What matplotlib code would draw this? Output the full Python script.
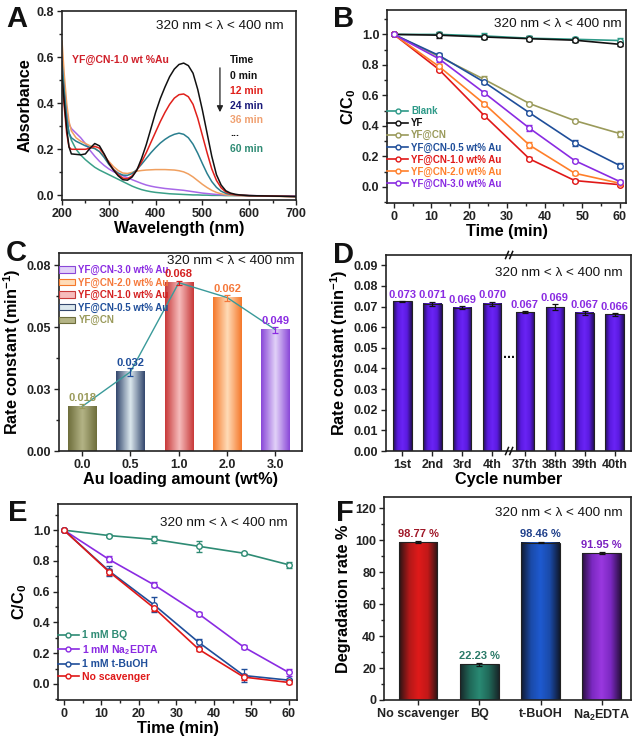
import numpy as np
import matplotlib
matplotlib.use('Agg')
import matplotlib.pyplot as plt
from matplotlib.colors import LinearSegmentedColormap
from matplotlib.patches import Rectangle, Patch
from matplotlib.lines import Line2D
from matplotlib.ticker import AutoMinorLocator, MultipleLocator, FixedLocator, FixedFormatter

plt.rcParams['font.family'] = ['Liberation Sans', 'DejaVu Sans']
plt.rcParams['font.weight'] = 'bold'
plt.rcParams['axes.labelweight'] = 'bold'
plt.rcParams['mathtext.fontset'] = 'custom'
plt.rcParams['mathtext.rm'] = 'Liberation Sans:bold'
plt.rcParams['mathtext.bf'] = 'Liberation Sans:bold'
plt.rcParams['mathtext.default'] = 'bf'

# ---------------- data ----------------
# A: UV-vis spectra
wl = [200, 205, 210, 215, 220, 230, 240, 250, 260, 270, 280, 290, 300, 310, 320, 330, 340, 350, 360, 370,
      380, 390, 400, 410, 420, 430, 440, 450, 460, 470, 480, 490, 500, 510, 520, 530, 540, 550, 560, 570,
      580, 600, 650, 700]
abs_0 = [0.52, 0.40, 0.29, 0.21, 0.18, 0.178, 0.176, 0.18, 0.205, 0.225, 0.215, 0.18, 0.14, 0.11, 0.085,
         0.068, 0.066, 0.08, 0.11, 0.16, 0.22, 0.29, 0.36, 0.42, 0.47, 0.515, 0.548, 0.568, 0.574, 0.563,
         0.53, 0.46, 0.37, 0.27, 0.17, 0.09, 0.045, 0.02, 0.01, 0.005, 0.002, -0.001, -0.003, -0.005]
abs_12 = [0.50, 0.38, 0.27, 0.21, 0.20, 0.20, 0.20, 0.20, 0.205, 0.213, 0.205, 0.178, 0.142, 0.112, 0.09,
          0.075, 0.072, 0.085, 0.11, 0.145, 0.185, 0.23, 0.275, 0.32, 0.36, 0.395, 0.422, 0.437, 0.44, 0.428,
          0.395, 0.335, 0.26, 0.185, 0.115, 0.065, 0.033, 0.015, 0.007, 0.003, 0.001, -0.001, -0.003, -0.005]
abs_24 = [0.58, 0.45, 0.34, 0.27, 0.25, 0.235, 0.225, 0.215, 0.208, 0.203, 0.19, 0.165, 0.135, 0.112, 0.097,
          0.088, 0.087, 0.095, 0.112, 0.135, 0.16, 0.185, 0.207, 0.227, 0.243, 0.256, 0.265, 0.27, 0.265, 0.25,
          0.222, 0.183, 0.138, 0.095, 0.06, 0.035, 0.018, 0.009, 0.004, 0.002, 0.001, -0.001, -0.003, -0.005]
abs_36 = [0.67, 0.52, 0.40, 0.32, 0.28, 0.25, 0.235, 0.225, 0.215, 0.205, 0.19, 0.17, 0.148, 0.125, 0.108,
          0.097, 0.095, 0.10, 0.105, 0.108, 0.11, 0.111, 0.112, 0.112, 0.112, 0.111, 0.11, 0.107, 0.102, 0.093,
          0.08, 0.064, 0.048, 0.034, 0.022, 0.013, 0.007, 0.003, 0.001, 0.0, -0.001, -0.002, -0.004, -0.006]
abs_48 = [0.60, 0.47, 0.37, 0.31, 0.29, 0.27, 0.25, 0.225, 0.195, 0.17, 0.148, 0.13, 0.115, 0.103, 0.094,
          0.085, 0.077, 0.068, 0.06, 0.052, 0.045, 0.04, 0.036, 0.033, 0.03, 0.028, 0.026, 0.024, 0.022, 0.019,
          0.016, 0.013, 0.01, 0.008, 0.006, 0.004, 0.003, 0.002, 0.001, 0.0, 0.0, -0.001, -0.002, -0.003]
abs_60 = [0.55, 0.43, 0.33, 0.27, 0.24, 0.20, 0.175, 0.155, 0.138, 0.122, 0.11, 0.10, 0.09, 0.08, 0.07,
          0.06, 0.05, 0.04, 0.032, 0.025, 0.02, 0.016, 0.013, 0.011, 0.009, 0.007, 0.006, 0.005, 0.004, 0.003,
          0.002, 0.002, 0.001, 0.001, 0.0, 0.0, 0.0, -0.001, -0.001, -0.001, -0.001, -0.002, -0.003, -0.004]

# B: degradation kinetics
t_min = [0, 12, 24, 36, 48, 60]
b_names = ['Blank', 'YF', 'YF@CN', 'YF@CN-0.5 wt% Au', 'YF@CN-1.0 wt% Au', 'YF@CN-2.0 wt% Au', 'YF@CN-3.0 wt% Au']
b_vals = [
    [1.0, 1.0, 0.99, 0.975, 0.968, 0.96],
    [1.0, 0.995, 0.983, 0.972, 0.962, 0.935],
    [1.0, 0.855, 0.705, 0.547, 0.435, 0.35],
    [1.0, 0.862, 0.687, 0.486, 0.29, 0.14],
    [1.0, 0.77, 0.468, 0.184, 0.042, 0.015],
    [1.0, 0.79, 0.545, 0.274, 0.09, 0.024],
    [1.0, 0.84, 0.617, 0.385, 0.173, 0.035],
]
b_errs = [
    [0, 0.012, 0.018, 0.012, 0.015, 0.018],
    [0, 0.018, 0.015, 0.015, 0.012, 0.012],
    [0, 0.015, 0.02, 0.01, 0.012, 0.02],
    [0, 0.015, 0.01, 0.01, 0.02, 0.015],
    [0, 0.01, 0.01, 0.01, 0.01, 0.008],
    [0, 0.015, 0.015, 0.02, 0.01, 0.01],
    [0, 0.02, 0.015, 0.02, 0.01, 0.01],
]

# C: rate constants vs Au loading
c_cats = ['0.0', '0.5', '1.0', '2.0', '3.0']
c_k = [0.018, 0.032, 0.068, 0.062, 0.049]
c_err = [0.0008, 0.0015, 0.0008, 0.0012, 0.0012]
c_lbl = ['0.018', '0.032', '0.068', '0.062', '0.049']
c_names = ['YF@CN', 'YF@CN-0.5 wt% Au', 'YF@CN-1.0 wt% Au', 'YF@CN-2.0 wt% Au', 'YF@CN-3.0 wt% Au']

# D: cycling
d_cats = ['1st', '2nd', '3rd', '4th', '37th', '38th', '39th', '40th']
d_k = [0.0725, 0.0714, 0.0694, 0.0714, 0.0673, 0.0697, 0.0669, 0.0662]
d_err = [0.0003, 0.001, 0.0008, 0.001, 0.0004, 0.0016, 0.001, 0.0006]
d_lbl = ['0.073', '0.071', '0.069', '0.070', '0.067', '0.069', '0.067', '0.066']

# E: scavenger kinetics
e_names = ['1 mM BQ', '1 mM Na$_2$EDTA', '1 mM t-BuOH', 'No scavenger']
e_vals = [
    [1.0, 0.965, 0.94, 0.895, 0.85, 0.775],
    [1.0, 0.81, 0.645, 0.455, 0.24, 0.075],
    [1.0, 0.735, 0.515, 0.27, 0.055, 0.025],
    [1.0, 0.73, 0.495, 0.225, 0.045, 0.01],
]
e_errs = [
    [0, 0.01, 0.025, 0.035, 0.01, 0.02],
    [0, 0.02, 0.015, 0.015, 0.015, 0.02],
    [0, 0.03, 0.05, 0.025, 0.045, 0.01],
    [0, 0.02, 0.02, 0.01, 0.02, 0.01],
]

# F: degradation rate with scavengers
f_cats = ['No scavenger', 'BQ', 't-BuOH', 'Na$_2$EDTA']
f_rate = [98.77, 22.23, 98.46, 91.95]
f_err = [0.5, 0.8, 0.5, 0.6]
f_lbl = ['98.77 %', '22.23 %', '98.46 %', '91.95 %']

# ---------------- helpers ----------------
W, H = 636, 742
fig = plt.figure(figsize=(W / 100, H / 100), dpi=100)
INK = '#222222'
COND = '320 nm < \u03bb < 400 nm'


def add_ax(l, r, t, b):
    return fig.add_axes([l / W, 1 - b / H, (r - l) / W, (b - t) / H])


def style(ax, xminor=True, yminor=True):
    for s in ax.spines.values():
        s.set_linewidth(1.2)
        s.set_color(INK)
    ax.tick_params(which='both', direction='out', width=1.0, colors=INK, labelsize=9, pad=2)
    ax.tick_params(which='major', length=3.5)
    ax.tick_params(which='minor', length=2)
    if xminor:
        ax.xaxis.set_minor_locator(AutoMinorLocator(2))
    if yminor:
        ax.yaxis.set_minor_locator(AutoMinorLocator(2))


def cond(ax, x, y):
    ax.text(x, y, COND, transform=ax.transAxes, ha='right', va='center', fontsize=9.7,
            fontweight='normal', color='#151515')


def grad_bar(ax, x, h, w, cols, edge=None):
    cm = LinearSegmentedColormap.from_list('g', cols)
    ax.imshow(np.linspace(0, 1, 64).reshape(1, -1), cmap=cm, aspect='auto',
              extent=[x - w / 2, x + w / 2, 0, h], zorder=2, interpolation='bilinear')
    if edge:
        ax.add_patch(Rectangle((x - w / 2, 0), w, h, fill=False, ec=edge, lw=0.8, zorder=3))


# ---------------- A ----------------
axA = add_ax(62, 296, 11, 200)
a_cols = ['#3aa088', '#a868e8', '#f0a060', '#2a7f8f', '#e0201b', '#111111']
for y, c in zip([abs_60, abs_48, abs_36, abs_24, abs_12, abs_0], a_cols):
    axA.plot(wl, y, color=c, lw=1.1)
axA.set_xlim(200, 700)
axA.set_ylim(-0.02, 0.8)
axA.xaxis.set_major_locator(MultipleLocator(100))
axA.yaxis.set_major_locator(MultipleLocator(0.2))
style(axA)
axA.set_xlabel('Wavelength (nm)', fontsize=11.7, labelpad=1)
axA.set_ylabel('Absorbance', fontsize=11.7, labelpad=3)
cond(axA, 0.945, 0.92)
axA.text(0.043, 0.74, 'YF@CN-1.0 wt %Au', transform=axA.transAxes, color='#d0202a', fontsize=7.5, va='center')
for txt, c, yy in [('Time', '#111111', 0.741), ('0 min', '#111111', 0.656), ('12 min', '#e0201b', 0.577),
                   ('24 min', '#1a1a7a', 0.497), ('36 min', '#f0a070', 0.423), ('...', '#111111', 0.354),
                   ('60 min', '#2e8b74', 0.27)]:
    axA.text(0.718, yy, txt, transform=axA.transAxes, color=c, fontsize=7.5, va='center')
axA.annotate('', xy=(0.675, 0.45), xytext=(0.675, 0.714), xycoords='axes fraction',
             arrowprops=dict(arrowstyle='-|>', color='#222222', lw=0.9, mutation_scale=9))

# ---------------- B ----------------
axB = add_ax(387, 626, 10, 203)
b_cols = ['#2e9a88', '#111111', '#9a9a5a', '#1f4e9a', '#e01818', '#ff7f2a', '#8a2be2']
for y, e, c, n in zip(b_vals, b_errs, b_cols, b_names):
    axB.errorbar(t_min, y, yerr=e, color=c, lw=1.2, marker='o', ms=4, mfc='white', mew=1.0,
                 capsize=2, elinewidth=0.9, capthick=0.9, label=n)
axB.set_xlim(-1.8, 61.6)
axB.set_ylim(-0.105, 1.16)
axB.xaxis.set_major_locator(MultipleLocator(10))
axB.yaxis.set_major_locator(MultipleLocator(0.2))
style(axB)
axB.set_xlabel('Time (min)', fontsize=11.7, labelpad=1)
axB.set_ylabel('C/C$_0$', fontsize=11.7, labelpad=3)
cond(axB, 0.983, 0.93)
handles = [Line2D([], [], color=c, lw=1.2, marker='o', ms=3.5, mfc='white', mew=1.0) for c in b_cols]
leg = axB.legend(handles, b_names, loc='upper left', bbox_to_anchor=(0.0, 0.50), frameon=False,
                 fontsize=7, handlelength=2.2, handletextpad=0.3, labelspacing=0.2, borderpad=0,
                 borderaxespad=0)
for t, c in zip(leg.get_texts(), b_cols):
    t.set_color(c)

# ---------------- C ----------------
axC = add_ax(59, 302, 253, 451)
c_grads = [['#6e6e3c', '#b4b486', '#6e6e3c'],
           ['#34486e', '#dce8ee', '#34486e'],
           ['#c83a3a', '#f6bcbc', '#c83a3a'],
           ['#f5782a', '#ffdcb8', '#f5782a'],
           ['#8a48d8', '#e2d2f8', '#8a48d8']]
c_txt = ['#9a9a5a', '#1f4e9a', '#d42020', '#f5783a', '#8a2be2']
xc = np.arange(len(c_cats))
for i in range(len(c_cats)):
    grad_bar(axC, xc[i], c_k[i], 0.58, c_grads[i])
    axC.errorbar(xc[i], c_k[i], yerr=c_err[i], color=c_txt[i], capsize=2.5, elinewidth=0.9,
                 capthick=0.9, zorder=5, fmt='none')
    axC.annotate(c_lbl[i], (xc[i], c_k[i]), xytext=(0, 2.5), textcoords='offset points',
                 ha='center', va='bottom', color=c_txt[i], fontsize=8, zorder=6)
axC.plot(xc, c_k, color='#3a9a9a', lw=1.0, zorder=4)
axC.set_xlim(-0.48, 4.55)
axC.set_ylim(0, 0.08)
axC.set_xticks(xc)
axC.set_xticklabels(c_cats)
axC.yaxis.set_major_locator(FixedLocator([0, 0.025, 0.05, 0.075]))
axC.yaxis.set_major_formatter(FixedFormatter(['0.00', '0.03', '0.05', '0.08']))
style(axC, xminor=False)
axC.set_xlabel('Au loading amount (wt%)', fontsize=11.7, labelpad=1)
axC.set_ylabel('Rate constant (min$^{-1}$)', fontsize=11.7, labelpad=3)
cond(axC, 0.971, 0.962)
c_handles = [Patch(facecolor=g[1], edgecolor=g[0], lw=0.8) for g in c_grads]
legC = axC.legend(c_handles[::-1], c_names[::-1], loc='upper left', bbox_to_anchor=(0.0, 0.94),
                  frameon=False, fontsize=7, handlelength=1.6, handleheight=0.6, handletextpad=0.4,
                  labelspacing=0.25, borderpad=0, borderaxespad=0)
for t, c in zip(legC.get_texts(), c_txt[::-1]):
    t.set_color(c)

# ---------------- D ----------------
axD = add_ax(386, 631, 255, 451)
d_pos = [0, 1, 2, 3, 4.1, 5.1, 6.1, 7.1]
for i in range(len(d_cats)):
    grad_bar(axD, d_pos[i], d_k[i], 0.62, ['#24105a', '#5a1ae0', '#6a24f5', '#5a1ae0', '#24105a'],
             edge='#222222')
    axD.errorbar(d_pos[i], d_k[i], yerr=d_err[i], color='#111111', capsize=2.2, elinewidth=0.9,
                 capthick=0.9, zorder=5, fmt='none')
    axD.text(d_pos[i], d_k[i] + d_err[i] + 0.0006, d_lbl[i], ha='center', va='bottom', color='#8a2be2',
             fontsize=8, zorder=6)
axD.set_xlim(-0.55, 7.65)
axD.set_ylim(0, 0.095)
axD.set_xticks(d_pos)
axD.set_xticklabels(d_cats)
axD.yaxis.set_major_locator(MultipleLocator(0.01))
axD.yaxis.set_major_formatter(plt.FormatStrFormatter('%.2f'))
style(axD, xminor=False, yminor=False)
axD.set_xlabel('Cycle number', fontsize=11.7, labelpad=1)
axD.set_ylabel('Rate constant (min$^{-1}$)', fontsize=11.7, labelpad=3)
cond(axD, 0.967, 0.908)
# axis break marks on both spines
brk = axD.get_xaxis_transform()
for yy in (0, 1):
    for xx in (3.5, 3.64):
        axD.add_line(Line2D([xx - 0.05, xx + 0.05], [yy - 0.018, yy + 0.018], transform=brk,
                            color='#111111', lw=1.1, clip_on=False, zorder=7))
axD.text(3.57, 0.047, '...', ha='center', va='center', fontsize=10, color='#111111')

# ---------------- E ----------------
axE = add_ax(58, 297, 504, 700)
e_cols = ['#2e8b74', '#8a2be2', '#1f4e9a', '#e01818']
for y, e, c, n in zip(e_vals, e_errs, e_cols, e_names):
    axE.errorbar(t_min, y, yerr=e, color=c, lw=1.2, marker='o', ms=4, mfc='white', mew=1.0,
                 capsize=2, elinewidth=0.9, capthick=0.9)
axE.set_xlim(-1.6, 62.2)
axE.set_ylim(-0.104, 1.17)
axE.xaxis.set_major_locator(MultipleLocator(10))
axE.yaxis.set_major_locator(MultipleLocator(0.2))
style(axE)
axE.set_xlabel('Time (min)', fontsize=11.7, labelpad=1)
axE.set_ylabel('C/C$_0$', fontsize=11.7, labelpad=3)
cond(axE, 0.962, 0.903)
handles = [Line2D([], [], color=c, lw=1.2, marker='o', ms=3.5, mfc='white', mew=1.0) for c in e_cols]
legE = axE.legend(handles, e_names, loc='upper left', bbox_to_anchor=(0.0, 0.355), frameon=False,
                  fontsize=7.5, handlelength=2.0, handletextpad=0.3, labelspacing=0.25, borderpad=0,
                  borderaxespad=0)
for t, c in zip(legE.get_texts(), e_cols):
    t.set_color(c)

# ---------------- F ----------------
axF = add_ax(384, 631, 497, 700)
f_grads = [['#2a1414', '#b01818', '#e01a1a', '#c01818', '#2a1414'],
           ['#18282a', '#206858', '#2a8a74', '#206858', '#18282a'],
           ['#101a30', '#1a4aa8', '#1e5ad0', '#1a4aa8', '#101a30'],
           ['#2a1040', '#7a28c0', '#9a38e0', '#7a28c0', '#2a1040']]
f_txt = ['#a01828', '#2a7a68', '#1f3f8a', '#7a20c0']
for i in range(len(f_cats)):
    grad_bar(axF, i, f_rate[i], 0.63, f_grads[i], edge='#222222')
    axF.errorbar(i, f_rate[i], yerr=f_err[i], color='#111111', capsize=2.2, elinewidth=0.9,
                 capthick=0.9, zorder=5, fmt='none')
    axF.text(i, f_rate[i] + f_err[i] + 1.5, f_lbl[i], ha='center', va='bottom', color=f_txt[i],
             fontsize=8, zorder=6)
axF.set_xlim(-0.56, 3.48)
axF.set_ylim(0, 127)
axF.set_xticks(range(len(f_cats)))
axF.set_xticklabels(f_cats)
axF.yaxis.set_major_locator(MultipleLocator(20))
style(axF, xminor=False)
axF.set_ylabel('Degradation rate %', fontsize=11.7, labelpad=3)
cond(axF, 0.968, 0.92)

# panel letters
for lab, x, y in [('A', 6, 27), ('B', 333, 27), ('C', 6, 261), ('D', 333, 263), ('E', 8, 521), ('F', 336, 521)]:
    fig.text(x / W, 1 - y / H, lab, fontsize=21, fontweight='bold', color='#111111', ha='left', va='baseline')

fig.savefig('out.png', dpi=100)
